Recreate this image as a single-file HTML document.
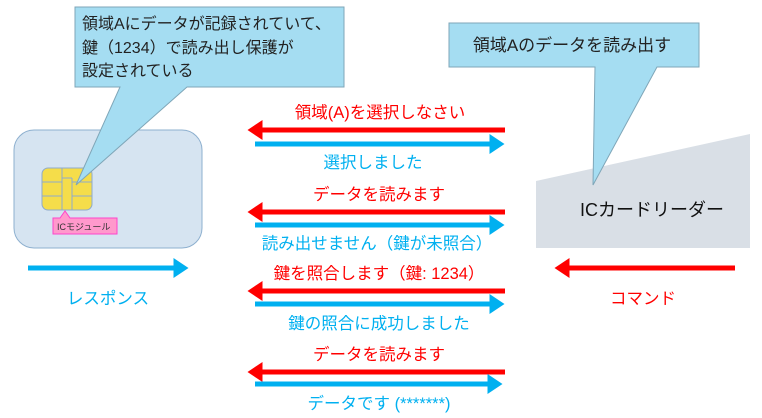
<!DOCTYPE html>
<html><head><meta charset="utf-8"><style>
html,body{margin:0;padding:0;background:#fff;}
svg{display:block;font-family:"Liberation Sans","Noto Sans CJK JP",sans-serif;}
</style></head><body>
<svg width="762" height="418" viewBox="0 0 762 418" xmlns="http://www.w3.org/2000/svg">
<defs>
<marker id="r" markerWidth="4" markerHeight="4" refX="0.5" refY="2" orient="auto" markerUnits="strokeWidth"><path d="M0,0 L3,2 L0,4Z" fill="#ff0000"/></marker>
<marker id="b" markerWidth="4" markerHeight="4" refX="0.5" refY="2" orient="auto" markerUnits="strokeWidth"><path d="M0,0 L3,2 L0,4Z" fill="#00b0f0"/></marker>
</defs>
<rect x="14" y="130" width="188" height="118" rx="20" fill="#d6e4f1" stroke="#8eb0cf" stroke-width="1"/>
<rect x="42" y="168" width="50" height="42" rx="6" fill="#f5dd4a" stroke="#8eaacc" stroke-width="1"/>
<path d="M42,182 H62 M42,196 H62 M72,182 H92 M72,196 H92 M62,168 V210 M72,178 V210 M62,178 H72" stroke="#8eaacc" stroke-width="1" fill="none"/>
<path d="M53,218 H60 L65,211 L70,218 H117 V234 H53Z" fill="#ff99cc" stroke="#ff44cc" stroke-width="1"/>
<text x="57" y="230" font-size="9" fill="#333">ICモジュール</text>
<path d="M75,7 H344 V87 H187 L76,185 L120,87 H75Z" fill="#a5ddf2" stroke="#7fa6b8" stroke-width="1"/>
<text font-size="16" fill="#222"><tspan x="82" y="29">領域Aにデータが記録されていて、</tspan><tspan x="82" y="53">鍵（1234）で読み出し保護が</tspan><tspan x="82" y="76">設定されている</tspan></text>
<polygon points="536,181 750,134 750,248 536,248" fill="#d9dfe6"/>
<text x="652" y="216" font-size="18" text-anchor="middle" fill="#111">ICカードリーダー</text>
<path d="M449,23 H699 V67 H657 L593,185 L595,67 H449Z" fill="#a5ddf2" stroke="#7fa6b8" stroke-width="1"/>
<text x="572" y="51" font-size="17" text-anchor="middle" fill="#222">領域Aのデータを読み出す</text>
<g stroke-width="5">
<line x1="505" y1="130" x2="260" y2="130" stroke="#ff0000" marker-end="url(#r)"/>
<line x1="255" y1="144" x2="492" y2="144" stroke="#00b0f0" marker-end="url(#b)"/>
<line x1="505" y1="212" x2="260" y2="212" stroke="#ff0000" marker-end="url(#r)"/>
<line x1="255" y1="225" x2="492" y2="225" stroke="#00b0f0" marker-end="url(#b)"/>
<line x1="505" y1="291" x2="260" y2="291" stroke="#ff0000" marker-end="url(#r)"/>
<line x1="255" y1="304" x2="492" y2="304" stroke="#00b0f0" marker-end="url(#b)"/>
<line x1="505" y1="372" x2="260" y2="372" stroke="#ff0000" marker-end="url(#r)"/>
<line x1="255" y1="384" x2="490" y2="384" stroke="#00b0f0" marker-end="url(#b)"/>
<line x1="28" y1="268" x2="176" y2="268" stroke="#00b0f0" marker-end="url(#b)"/>
<line x1="735" y1="268" x2="567" y2="268" stroke="#ff0000" marker-end="url(#r)"/>
</g>
<g font-size="16.5" text-anchor="middle">
<text x="380" y="118" fill="#ff0000">領域(A)を選択しなさい</text>
<text x="373" y="168" fill="#00b0f0">選択しました</text>
<text x="379" y="200" fill="#ff0000">データを読みます</text>
<text x="377" y="249" fill="#00b0f0">読み出せません（鍵が未照合）</text>
<text x="379" y="279" fill="#ff0000">鍵を照合します（鍵: 1234）</text>
<text x="379" y="329" fill="#00b0f0">鍵の照合に成功しました</text>
<text x="379" y="360" fill="#ff0000">データを読みます</text>
<text x="379" y="409" fill="#00b0f0">データです (*******)</text>
<text x="108" y="304" fill="#00b0f0">レスポンス</text>
<text x="643" y="304" fill="#ff0000">コマンド</text>
</g>
</svg>
</body></html>
